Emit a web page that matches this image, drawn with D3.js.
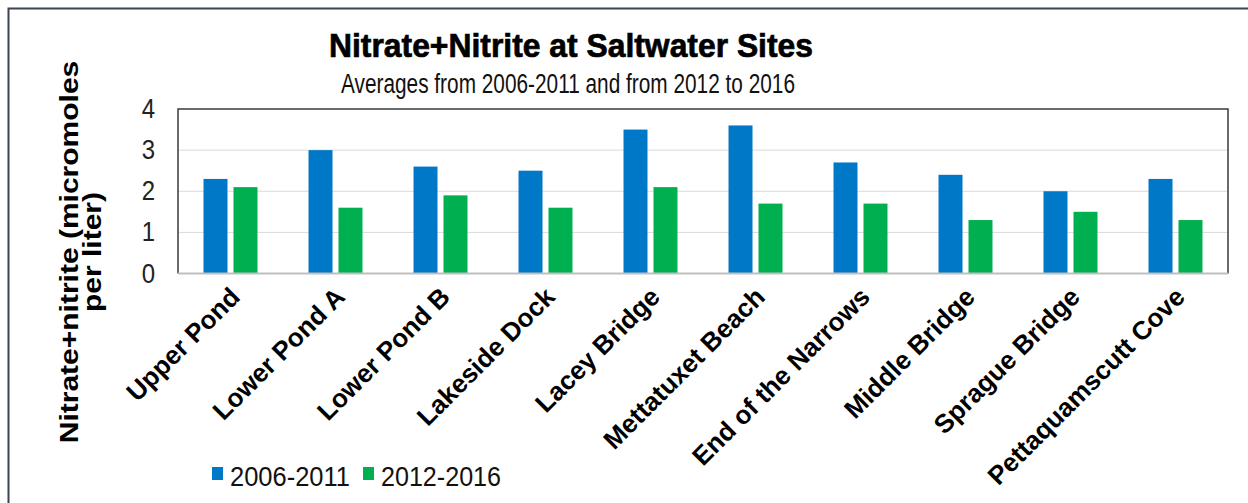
<!DOCTYPE html>
<meta charset="utf-8">
<script src="https://d3js.org/d3.v7.min.js"></script>
<style>
  body { margin: 0; background: #fff; }
  text { font-family: Arial, "Liberation Sans", sans-serif; }
</style>
<div id="chart"></div>
<script>

// data
var sites = ["Upper Pond", "Lower Pond A", "Lower Pond B", "Lakeside Dock", "Lacey Bridge",
             "Mettatuxet Beach", "End of the Narrows", "Middle Bridge", "Sprague Bridge", "Pettaquamscutt Cove"];
var seriesNames = ["2006-2011", "2012-2016"];
var early = [2.3, 3.0, 2.6, 2.5, 3.5, 3.6, 2.7, 2.4, 2.0, 2.3];
var late  = [2.1, 1.6, 1.9, 1.6, 2.1, 1.7, 1.7, 1.3, 1.5, 1.3];
var yTicks = [0, 1, 2, 3, 4];

var colors = {"2006-2011": "#0078c8", "2012-2016": "#00b050"};

var W = 1248, H = 503;
var plot = {left: 178, right: 1228, top: 109, bottom: 273.5};

var svg = d3.select("#chart").append("svg")
    .attr("width", W)
    .attr("height", H);

// outer frame (top and left edges visible)
svg.append("rect")
    .attr("x", 8.5).attr("y", 8.5)
    .attr("width", 1300).attr("height", 600)
    .attr("fill", "none")
    .attr("stroke", "#3b4354")
    .attr("stroke-width", 2);

var data = sites.map(function(s, i) {
  return {site: s, values: [{key: seriesNames[0], v: early[i]}, {key: seriesNames[1], v: late[i]}]};
});

var x0 = d3.scaleBand()
    .domain(sites)
    .range([plot.left, plot.right])
    .paddingInner(0.486)
    .paddingOuter(0.243);

var x1 = d3.scaleBand()
    .domain(seriesNames)
    .range([0, x0.bandwidth()])
    .paddingInner(0.2);

var y = d3.scaleLinear()
    .domain([0, 4])
    .range([plot.bottom, plot.top]);

// gridlines
svg.append("g")
  .selectAll("line")
  .data(yTicks.filter(function(t) { return t > 0 && t < 4; }))
  .enter().append("line")
    .attr("x1", plot.left).attr("x2", plot.right)
    .attr("y1", function(d) { return y(d); })
    .attr("y2", function(d) { return y(d); })
    .attr("stroke", "#d9d9d9")
    .attr("stroke-width", 1);

// bars
svg.append("g")
  .selectAll("g")
  .data(data)
  .enter().append("g")
    .attr("transform", function(d) { return "translate(" + x0(d.site) + ",0)"; })
  .selectAll("rect")
  .data(function(d) { return d.values; })
  .enter().append("rect")
    .attr("x", function(d) { return x1(d.key); })
    .attr("y", function(d) { return y(d.v); })
    .attr("width", x1.bandwidth())
    .attr("height", function(d) { return y(0) - y(d.v); })
    .attr("fill", function(d) { return colors[d.key]; });

// plot border: dark top/left/right, grey baseline
svg.append("path")
    .attr("d", "M" + plot.left + "," + plot.bottom + "V" + plot.top + "H" + plot.right + "V" + plot.bottom)
    .attr("fill", "none")
    .attr("stroke", "#3a3a3a")
    .attr("stroke-width", 1.5);
svg.append("line")
    .attr("x1", plot.left).attr("x2", plot.right)
    .attr("y1", plot.bottom).attr("y2", plot.bottom)
    .attr("stroke", "#bfbfbf")
    .attr("stroke-width", 2);

// y axis
var yAxis = svg.append("g")
    .attr("transform", "translate(" + plot.left + ",0)")
    .call(d3.axisLeft(y).tickValues(yTicks).tickFormat(d3.format("d")).tickSize(0).tickPadding(23));
yAxis.select(".domain").remove();
yAxis.selectAll("text")
    .style("font-size", "24px")
    .style("font-family", "Arial, 'Liberation Sans', sans-serif")
    .attr("fill", "#222")
    .attr("transform", "scale(1,1.12)");

// x axis labels (rotated)
var xAxis = svg.append("g")
    .attr("transform", "translate(0," + plot.bottom + ")")
    .call(d3.axisBottom(x0).tickSize(0).tickPadding(0));
xAxis.select(".domain").remove();
xAxis.selectAll("text")
    .style("font-size", "26px")
    .style("font-weight", "bold")
    .style("font-family", "Arial, 'Liberation Sans', sans-serif")
    .attr("fill", "#000")
    .attr("text-anchor", "end")
    .attr("dy", "0")
    .attr("y", 0)
    .attr("transform", "translate(11,25) rotate(-45)");

// y axis title
var yTitle = svg.append("text")
    .attr("transform", "translate(78,252) rotate(-90) scale(1.2,1)")
    .attr("text-anchor", "middle")
    .style("font-size", "25px")
    .style("font-weight", "bold");
yTitle.append("tspan").attr("x", 0).attr("dy", 0).text("Nitrate+nitrite (micromoles");
yTitle.append("tspan").attr("x", 0).attr("dy", 23).text("per liter)");

// titles
svg.append("text")
    .attr("x", 571).attr("y", 57)
    .attr("text-anchor", "middle")
    .attr("textLength", 484)
    .attr("lengthAdjust", "spacingAndGlyphs")
    .style("font-size", "34px")
    .style("font-weight", "bold")
    .attr("stroke", "#000")
    .attr("stroke-width", 0.7)
    .text("Nitrate+Nitrite at Saltwater Sites");

svg.append("text")
    .attr("x", 568).attr("y", 93)
    .attr("text-anchor", "middle")
    .attr("textLength", 454)
    .attr("lengthAdjust", "spacingAndGlyphs")
    .style("font-size", "27px")
    .attr("fill", "#111")
    .text("Averages from 2006-2011 and from 2012 to 2016");

// legend
var legend = svg.append("g");
var legendX = [212, 363];
seriesNames.forEach(function(name, i) {
  legend.append("rect")
      .attr("x", legendX[i]).attr("y", 467)
      .attr("width", 11).attr("height", 13)
      .attr("fill", colors[name]);
  legend.append("text")
      .attr("x", legendX[i] + 18).attr("y", 486)
      .attr("textLength", 120)
      .attr("lengthAdjust", "spacingAndGlyphs")
      .style("font-size", "28px")
      .attr("fill", "#111")
      .text(name);
});

</script>
